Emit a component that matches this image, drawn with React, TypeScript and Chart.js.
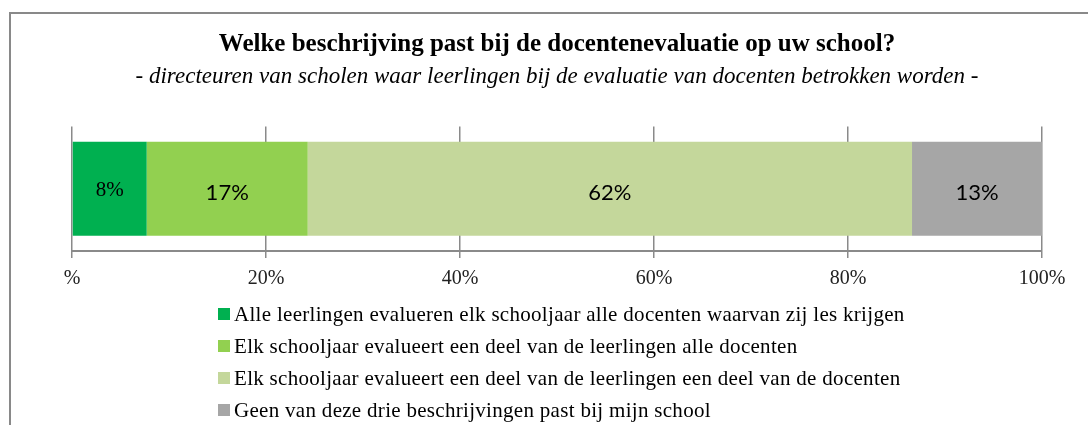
import React, { useEffect, useRef } from "react";
import { Chart, registerables } from "chart.js";

Chart.register(...registerables);

const categories = ["Docentenevaluatie"];
const seriesLabels = [
  "Alle leerlingen evalueren elk schooljaar alle docenten waarvan zij les krijgen",
  "Elk schooljaar evalueert een deel van de leerlingen alle docenten",
  "Elk schooljaar evalueert een deel van de leerlingen een deel van de docenten",
  "Geen van deze drie beschrijvingen past bij mijn school",
];
const seriesValues = [7.7, 16.6, 62.3, 13.4];
const valueLabels = ["8%", "17%", "62%", "13%"];
const seriesColors = ["#00B050", "#92D050", "#C4D79B", "#A6A6A6"];
const tickValues = [0, 20, 40, 60, 80, 100];
const tickLabels = ["%", "20%", "40%", "60%", "80%", "100%"];
const titleText = "Welke beschrijving past bij de docentenevaluatie op uw school?";
const subtitleText =
  "- directeuren van scholen waar leerlingen bij de evaluatie van docenten betrokken worden -";

const SERIF = "'Liberation Serif', 'Times New Roman', serif";
const SANS = "Lato, 'Open Sans', sans-serif";

const valueLabelPlugin = {
  id: "valueLabels",
  afterDatasetsDraw(chart: any) {
    const ctx = chart.ctx;
    chart.data.datasets.forEach((_ds: any, i: number) => {
      const meta = chart.getDatasetMeta(i);
      meta.data.forEach((bar: any) => {
        const { x, y, base } = bar.getProps(["x", "y", "base"], true);
        ctx.save();
        ctx.font = i === 0 ? `21px ${SERIF}` : `22px ${SANS}`;
        ctx.fillStyle = "#000000";
        ctx.textAlign = "center";
        ctx.textBaseline = "middle";
        ctx.fillText(valueLabels[i], (x + base) / 2, y + (i === 0 ? 2 : 4));
        ctx.restore();
      });
    });
  },
};

export default function App() {
  const canvasRef = useRef<HTMLCanvasElement | null>(null);

  useEffect(() => {
    if (!canvasRef.current) return;
    const chart = new Chart(canvasRef.current, {
      type: "bar",
      data: {
        labels: categories,
        datasets: seriesLabels.map((label, i) => ({
          label,
          data: [seriesValues[i]],
          backgroundColor: seriesColors[i],
          borderWidth: 0,
          stack: "s",
          barPercentage: 0.756,
          categoryPercentage: 1,
        })),
      },
      options: {
        indexAxis: "y",
        animation: false,
        responsive: true,
        maintainAspectRatio: false,
        layout: { padding: { left: 72, right: 46, top: 0, bottom: 125 } },
        plugins: {
          legend: { display: false },
          tooltip: { enabled: false },
          title: {
            display: true,
            text: titleText,
            color: "#000000",
            font: { family: SERIF, size: 25, weight: "bold", lineHeight: 1.2 },
            padding: { top: 30, bottom: 0 },
          },
          subtitle: {
            display: true,
            text: subtitleText,
            color: "#000000",
            font: { family: SERIF, size: 23, style: "italic", lineHeight: 1.2 },
            padding: { top: 3, bottom: 36 },
          },
        },
        scales: {
          x: {
            stacked: true,
            min: 0,
            max: 100,
            afterBuildTicks: (axis: any) => {
              axis.ticks = tickValues.map((v) => ({ value: v }));
            },
            ticks: {
              color: "#222222",
              font: { family: SERIF, size: 20 },
              padding: 9,
              maxRotation: 0,
              callback: (v: any) => tickLabels[tickValues.indexOf(Number(v))],
            },
            grid: {
              color: "#8a8a8a",
              lineWidth: 1.5,
              tickLength: 7,
              drawOnChartArea: true,
            },
            border: { display: true, color: "#8a8a8a", width: 2 },
          },
          y: {
            stacked: true,
            display: false,
          },
        },
      },
      plugins: [valueLabelPlugin],
    } as any);
    return () => chart.destroy();
  }, []);

  return (
    <div
      style={{
        position: "fixed",
        left: 0,
        top: 0,
        width: 1088,
        height: 425,
        background: "#ffffff",
        overflow: "hidden",
      }}
    >
      <div
        style={{
          position: "absolute",
          left: 9,
          top: 12,
          width: 1079,
          height: 420,
          borderTop: "2px solid #898989",
          borderLeft: "2px solid #898989",
        }}
      />
      <div style={{ position: "absolute", left: 0, top: 0, width: 1088, height: 425 }}>
        <canvas ref={canvasRef} />
      </div>
      <div
        style={{
          position: "absolute",
          left: 218,
          top: 298,
          fontFamily: SERIF,
          fontSize: 21,
          letterSpacing: 0.3,
          color: "#000000",
        }}
      >
        {seriesLabels.map((label, i) => (
          <div
            key={label}
            style={{ display: "flex", alignItems: "center", height: 32, whiteSpace: "nowrap" }}
          >
            <span
              style={{
                display: "inline-block",
                width: 12,
                height: 12,
                background: seriesColors[i],
                marginRight: 4,
              }}
            />
            <span>{label}</span>
          </div>
        ))}
      </div>
    </div>
  );
}
